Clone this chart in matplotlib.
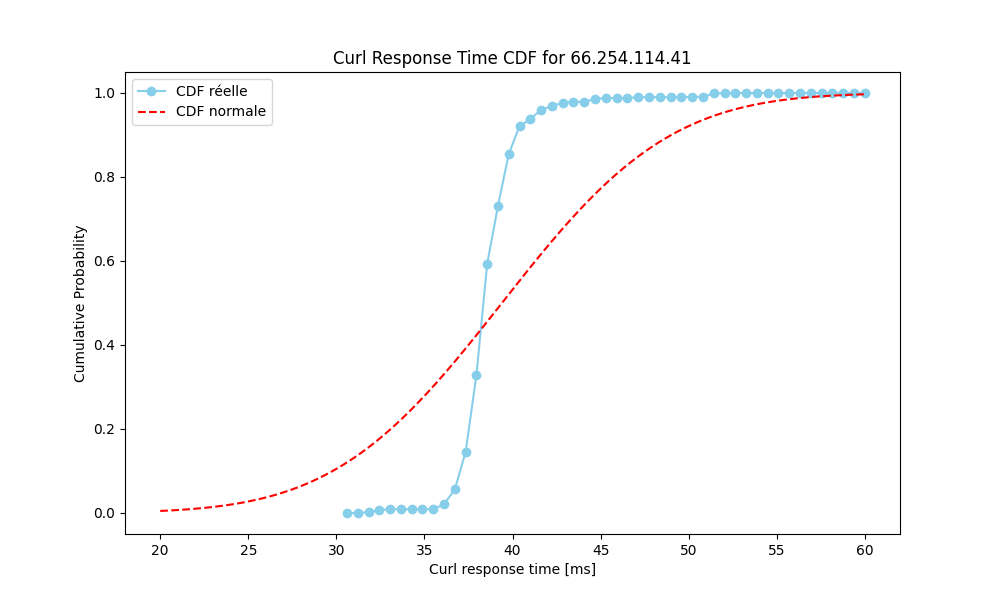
import matplotlib
matplotlib.use("Agg")
import matplotlib.pyplot as plt
import numpy as np
import math

# measured response times (ms), first and last bin, 49 points
t_start, t_end, n_points = 30.6, 60.0, 49
cdf_reelle = [0.000, 0.000, 0.002, 0.007, 0.009, 0.009, 0.009, 0.009, 0.009,
              0.021, 0.056, 0.145, 0.328, 0.593, 0.731, 0.855, 0.921, 0.938,
              0.960, 0.969, 0.977, 0.979, 0.979, 0.986, 0.988, 0.988, 0.988,
              0.990, 0.990, 0.990, 0.990, 0.990, 0.991, 0.991, 0.999, 1.000,
              1.000, 1.000, 1.000, 1.000, 1.000, 1.000, 1.000, 1.000, 1.000,
              1.000, 1.000, 1.000, 1.000]
# fitted normal distribution
mu, sigma = 39.4, 7.5
x_min, x_max = 20, 60

times = np.linspace(t_start, t_end, n_points)
x_norm = np.linspace(x_min, x_max, 400)
cdf_normale = [0.5 * (1 + math.erf((v - mu) / (sigma * math.sqrt(2)))) for v in x_norm]

fig = plt.figure(figsize=(10, 6), dpi=100)
ax = fig.add_subplot(1, 1, 1)
ax.plot(times, cdf_reelle, marker='o', linestyle='-', color='skyblue', label='CDF réelle')
ax.plot(x_norm, cdf_normale, linestyle='--', color='red', label='CDF normale')
ax.set_title('Curl Response Time CDF for 66.254.114.41')
ax.set_xlabel('Curl response time [ms]')
ax.set_ylabel('Cumulative Probability')
ax.legend(loc='upper left')
fig.savefig('out.png')
